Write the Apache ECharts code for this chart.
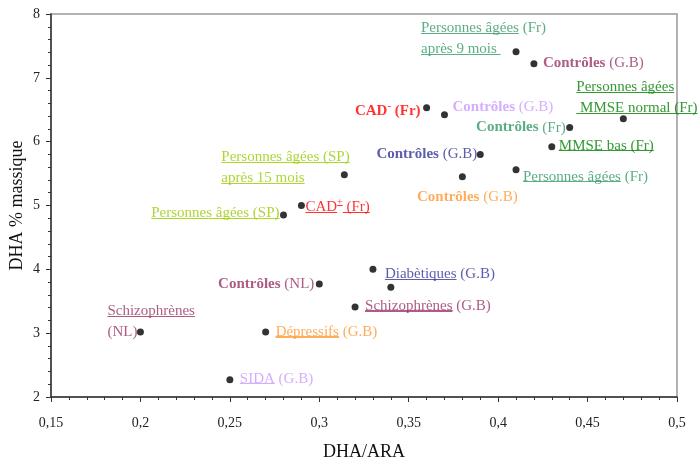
<!DOCTYPE html>
<html><head><meta charset="utf-8">
<script src="https://cdn.jsdelivr.net/npm/echarts@6/dist/echarts.min.js"></script>
<style>html,body{margin:0;padding:0;background:#fff}#c{width:700px;height:461px}</style>
</head><body><div id="c"></div>
<script>
// ---- data ----
const dhaAra = [0.20, 0.25, 0.27, 0.30, 0.32, 0.33, 0.34, 0.28, 0.29, 0.314, 0.38, 0.39, 0.36, 0.37, 0.41, 0.42, 0.44, 0.47, 0.43, 0.41];
const dhaPct = [3.02, 2.27, 3.02, 3.77, 3.41, 4.00, 3.72, 4.85, 5.00, 5.48, 5.45, 5.80, 6.53, 6.42, 7.41, 7.22, 6.22, 6.36, 5.92, 5.56];
const pointLabels = [
  '{u|Schizophrènes}\n{n|(NL)}',
  '{u|SIDA}{n| (G.B)}',
  '{u|Dépressifs}{n| (G.B)}',
  '{b|Contrôles}{n| (NL)}',
  '{u|Schizophrènes}{n| (G.B)}',
  '{u|Diabètiques}{n| (G.B)}',
  '',
  '{u|Personnes âgées (SP)}',
  '{u|CAD}{us|+}{u| (Fr)}',
  '{u|Personnes âgées (SP)}\n{u|après 15 mois}',
  '{b|Contrôles}{n| (G.B)}',
  '{b|Contrôles}{n| (G.B)}',
  '{b|CAD}{bs|-}{b| (Fr)}',
  '{b|Contrôles}{n| (G.B)}',
  '{u|Personnes âgées}{n| (Fr)}\n{u|après 9 mois }',
  '{b|Contrôles}{n| (G.B)}',
  '{b|Contrôles}{n| (Fr)}',
  '{u|Personnes âgées}\n{u| MMSE normal (Fr)}',
  '{u|MMSE bas (Fr)}',
  '{u|Personnes âgées}{n| (Fr)}'
];
const xTicks = [0.15, 0.2, 0.25, 0.3, 0.35, 0.4, 0.45, 0.5];
const xTickLabels = ['0,15', '0,2', '0,25', '0,3', '0,35', '0,4', '0,45', '0,5'];
const yTickLabels = ['2', '3', '4', '5', '6', '7', '8'];
const xName = 'DHA/ARA';
const yName = 'DHA % massique';

// ---- styles ----
const C = {
  maroon: '#993366', lilac: '#CC99FF', orange: '#FF9933', blue: '#333399',
  ygreen: '#99CC00', red: '#FF0000', sea: '#339966', green: '#008000'
};
const labelStyle = [
  { c: C.maroon, a: 'left', o: [-33, -10] },
  { c: C.lilac, a: 'left', o: [10, -1] },
  { c: C.orange, a: 'left', o: [10, 0] },
  { c: C.maroon, a: 'right', o: [-5, 0] },
  { c: C.maroon, a: 'left', o: [10, -1] },
  { c: C.blue, a: 'left', o: [12, 5] },
  null,
  { c: C.ygreen, a: 'right', o: [-4, -2] },
  { c: C.red, a: 'left', o: [4, 2] },
  { c: C.ygreen, a: 'left', o: [-123, -7] },
  { c: C.orange, a: 'center', o: [5, 20] },
  { c: C.blue, a: 'right', o: [-3, 0] },
  { c: C.red, a: 'right', o: [-6, 3] },
  { c: C.lilac, a: 'left', o: [8, -8] },
  { c: C.sea, a: 'left', o: [-95, -13] },
  { c: C.maroon, a: 'left', o: [9, -1] },
  { c: C.sea, a: 'right', o: [-4, 0] },
  { c: C.green, a: 'left', o: [-47, -21] },
  { c: C.green, a: 'left', o: [7, -1] },
  { c: C.sea, a: 'left', o: [7, 7] }
];
const FONT = 'Liberation Serif';
const FS = 15, LH = 21;
function underline(color) {
  const t = 'rgba(255,255,255,0)';
  return { type: 'linear', x: 0, y: 0, x2: 0, y2: 1, colorStops: [
    { offset: 0, color: t }, { offset: 0.80, color: t },
    { offset: 0.80, color: color }, { offset: 0.88, color: color },
    { offset: 0.88, color: t }, { offset: 1, color: t }] };
}
function rich(color) {
  const base = { color: color, fontFamily: FONT, fontSize: FS, lineHeight: LH };
  return {
    n: Object.assign({}, base),
    b: Object.assign({}, base, { fontWeight: 'bold' }),
    u: Object.assign({}, base, { backgroundColor: underline(color) }),
    us: Object.assign({}, base, { fontSize: 10, verticalAlign: 'top', backgroundColor: underline(color) }),
    bs: Object.assign({}, base, { fontSize: 11, fontWeight: 'bold', verticalAlign: 'top', lineHeight: 12 })
  };
}

const data = dhaAra.map((x, i) => {
  const s = labelStyle[i];
  const item = { value: [x, dhaPct[i]] };
  if (s && pointLabels[i]) {
    item.label = {
      show: true, position: 'inside', formatter: pointLabels[i],
      align: s.a, verticalAlign: 'middle', offset: s.o,
      fontFamily: FONT, fontSize: FS, lineHeight: LH, color: s.c,
      rich: rich(s.c)
    };
  } else {
    item.label = { show: false };
  }
  return item;
});

const chart = echarts.init(document.getElementById('c'), null, { renderer: 'canvas' });
chart.setOption({
  animation: false,
  backgroundColor: '#fff',
  grid: { left: 51, right: 23, top: 14, bottom: 64, show: true, borderColor: '#999', borderWidth: 1.5,
    containLabel: false, outerBoundsMode: 'none' },
  xAxis: {
    type: 'value', min: 0.15, max: 0.5, interval: 0.05,
    name: xName, nameLocation: 'middle', nameGap: 46, nameMoveOverlap: false,
    nameTextStyle: { fontFamily: FONT, fontSize: 18, color: '#111' },
    axisLine: { show: true, lineStyle: { color: '#333', width: 1.5 } },
    axisTick: { show: true, length: 5, lineStyle: { color: '#333' } },
    minorTick: { show: true, splitNumber: 5, length: 3, lineStyle: { color: '#333' } },
    splitLine: { show: false },
    axisLabel: { fontFamily: FONT, fontSize: 14, color: '#222', margin: 19,
      formatter: v => { const k = xTicks.findIndex(t => Math.abs(t - v) < 1e-6); return k >= 0 ? xTickLabels[k] : ''; } }
  },
  yAxis: {
    type: 'value', min: 2, max: 8, interval: 1,
    name: yName, nameLocation: 'middle', nameGap: 25, nameRotate: 90, nameMoveOverlap: false,
    nameTextStyle: { fontFamily: FONT, fontSize: 18, color: '#111' },
    axisLine: { show: true, lineStyle: { color: '#333', width: 1.5 } },
    axisTick: { show: true, length: 5, lineStyle: { color: '#333' } },
    minorTick: { show: true, splitNumber: 5, length: 3, lineStyle: { color: '#333' } },
    splitLine: { show: false },
    axisLabel: { fontFamily: FONT, fontSize: 14, color: '#222', margin: 11,
      formatter: v => { const k = Math.round(v) - 2; return yTickLabels[k] || ''; } }
  },
  series: [{
    type: 'scatter', symbol: 'circle', symbolSize: 7, clip: false,
    itemStyle: { color: '#000' },
    data: data
  }]
});
</script></body></html>
